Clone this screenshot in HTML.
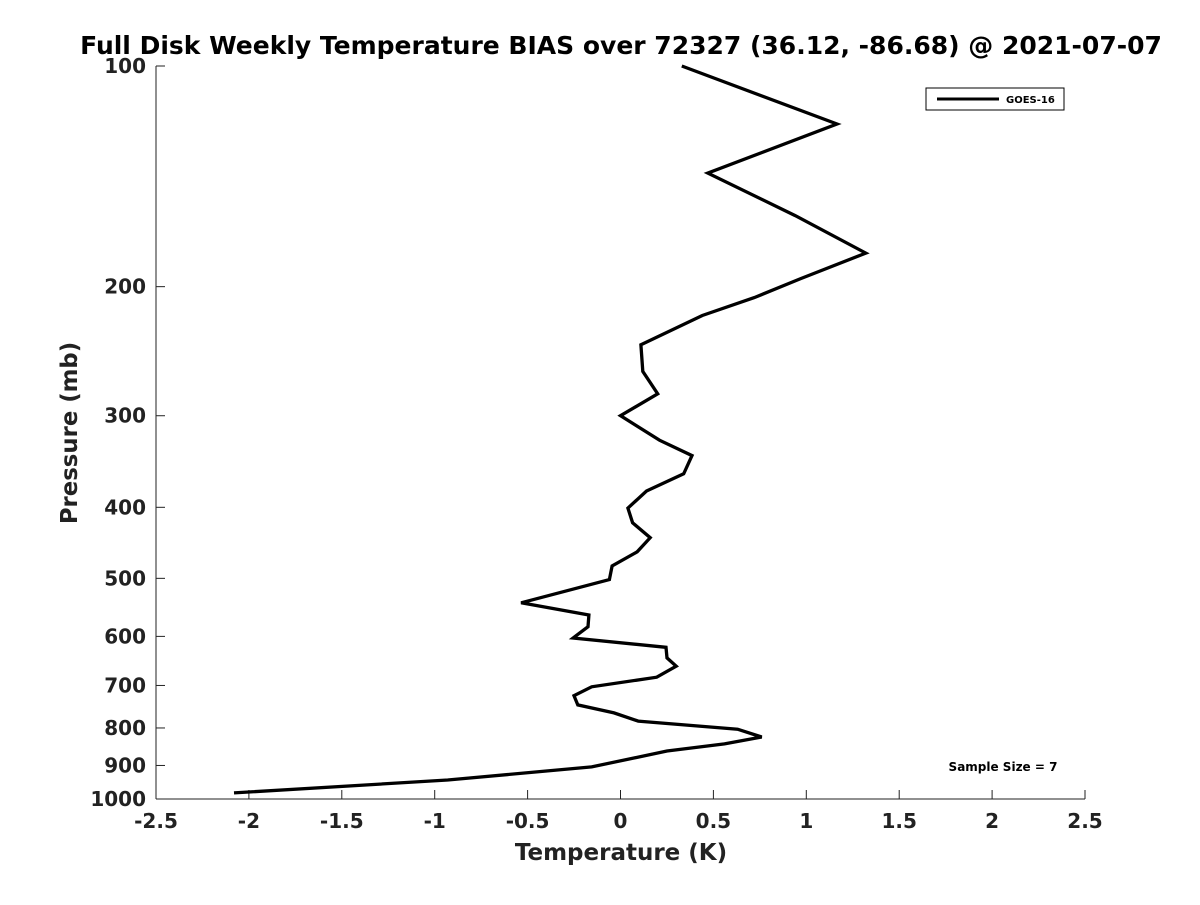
<!DOCTYPE html>
<html><head><meta charset="utf-8"><style>
body{margin:0;background:#fff;font-family:"Liberation Sans","DejaVu Sans",sans-serif;}
svg text{font-family:"DejaVu Sans","Liberation Sans",sans-serif;font-weight:bold;fill:#222;}
</style></head><body>
<svg id="chart" width="1200" height="900" viewBox="0 0 1200 900" xmlns="http://www.w3.org/2000/svg">
<rect width="1200" height="900" fill="#fff"/>
<text x="621" y="54" text-anchor="middle" font-size="25" style="fill:#000">Full Disk Weekly Temperature BIAS over 72327 (36.12, -86.68) @ 2021-07-07</text>
<g id="axes"></g>
<path id="line" fill="none" stroke="#000" stroke-width="3.3" stroke-linejoin="miter"/>
<g>
<rect x="926" y="88" width="138" height="22" fill="#fff" stroke="#000" stroke-width="1"/>
<line x1="937" y1="99" x2="999" y2="99" stroke="#000" stroke-width="3"/>
<text x="1006" y="103" font-size="10" style="fill:#000">GOES-16</text>
</g>
<text x="1003" y="771" text-anchor="middle" font-size="12" style="fill:#000">Sample Size = 7</text>
<text x="621" y="860" text-anchor="middle" font-size="23">Temperature (K)</text>
<text transform="translate(77,433) rotate(-90)" text-anchor="middle" font-size="22.8">Pressure (mb)</text>
</svg>
<script>
const xTicks=[-2.5,-2,-1.5,-1,-0.5,0,0.5,1,1.5,2,2.5];
const xTickLabels=["-2.5","-2","-1.5","-1","-0.5","0","0.5","1","1.5","2","2.5"];
const yTicks=[100,200,300,400,500,600,700,800,900,1000];
const pressures=[100,120,140,160,180,195,207,219,240,261,280,300,324,340,360,380,401,420,440,460,481,502,540,561,582,603,621,642,659,682,703,723,744,763,783,803,823,841,860,904,942,981];
const biases=[0.33,1.165,0.47,0.94,1.32,0.97,0.72,0.44,0.11,0.12,0.20,0.0,0.21,0.385,0.34,0.14,0.04,0.065,0.16,0.09,-0.045,-0.06,-0.535,-0.17,-0.175,-0.255,0.245,0.25,0.30,0.195,-0.155,-0.25,-0.23,-0.035,0.095,0.63,0.76,0.56,0.25,-0.155,-0.93,-2.08];
const L=156,R=1085,T=66,B=799;
const xs=v=>L+(v+2.5)/5*(R-L);
const ys=p=>T+Math.log10(p/100)*(B-T);
const NS="http://www.w3.org/2000/svg";
const ax=document.getElementById('axes');
function mk(t,a){const e=document.createElementNS(NS,t);for(const k in a)e.setAttribute(k,a[k]);ax.appendChild(e);return e;}
const xl=mk('line',{x1:L,y1:B,x2:R,y2:B,stroke:'#222','stroke-width':1});


const yl=mk('line',{x1:L,y1:T,x2:L,y2:B,stroke:'#222','stroke-width':1});


xTicks.forEach((v,i)=>{
 const x=xs(v);
 mk('line',{x1:x,y1:B,x2:x,y2:B-9,stroke:'#222','stroke-width':1});
 const t=mk('text',{x:x,y:B+29,'text-anchor':'middle','font-size':20});
 t.textContent=xTickLabels[i];
 
 
});
yTicks.forEach(p=>{
 const y=ys(p);
 mk('line',{x1:L,y1:y,x2:L+9,y2:y,stroke:'#222','stroke-width':1});
 const t=mk('text',{x:L-10,y:y+7,'text-anchor':'end','font-size':20});
 t.textContent=String(p);
 
 
});
document.getElementById('line').setAttribute('d',pressures.map((p,i)=>(i?'L':'M')+xs(biases[i]).toFixed(1)+','+ys(p).toFixed(1)).join(''));
</script>
</body></html>
